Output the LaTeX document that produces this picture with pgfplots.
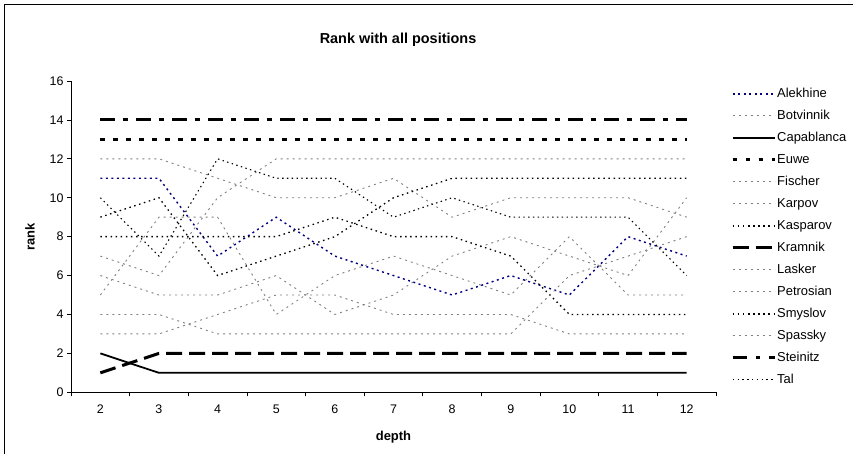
\documentclass[border=0pt]{standalone}
\usepackage{fontspec}
\setmainfont{Liberation Sans}
\usepackage{pgfplots}
\usepackage{pgfplotstable}
\pgfplotsset{compat=1.18}
\definecolor{navyA}{RGB}{0,0,128}
\definecolor{greyL}{RGB}{128,128,128}

\pgfplotstableread{
d Alekhine Botvinnik Capablanca Euwe Fischer Karpov Kasparov Kramnik Lasker Petrosian Smyslov Spassky Steinitz Tal
2 11 12 2 13 7 6 8 1 5 4 9 3 14 10
3 11 12 1 13 6 5 8 2 9 4 10 3 14 7
4 7 11 1 13 10 5 8 2 9 3 6 4 14 12
5 9 10 1 13 12 6 8 2 4 3 7 5 14 11
6 7 10 1 13 12 4 9 2 6 3 8 5 14 11
7 6 11 1 13 12 5 8 2 7 3 10 4 14 9
8 5 9 1 13 12 7 8 2 6 3 11 4 14 10
9 6 10 1 13 12 8 7 2 5 3 11 4 14 9
10 5 10 1 13 12 7 4 2 8 6 11 3 14 9
11 8 10 1 13 12 6 4 2 5 7 11 3 14 9
12 7 9 1 13 12 10 4 2 5 8 11 3 14 6
}\ranks

\begin{document}
\begin{tikzpicture}
\useasboundingbox (0,0) rectangle (853bp,454bp);
\draw[line width=0.8bp] (4.5bp,0) -- (4.5bp,449.5bp) -- (853bp,449.5bp);
\begin{axis}[
  at={(71bp,61.7bp)}, anchor=south west,
  scale only axis, width=645bp, height=311.3bp,
  xmin=1.5, xmax=12.5, ymin=0, ymax=16,
  axis x line*=bottom, axis y line*=left,
  axis line style={line width=0.8bp},
  xtick={2,...,12}, ytick={0,2,...,16},
  minor xtick={1.5,2.5,...,12.5},
  tick align=outside,
  major tick length=4bp, minor tick length=4bp,
  tick style={black, line width=0.8bp},
  major x tick style={draw=none},
  tick label style={font=\fontsize{12.5}{14}\selectfont},
  xticklabel style={yshift=-5bp},
  /pgf/number format/assume math mode=true,
  title={Rank with all positions},
  title style={font=\bfseries\fontsize{14.5}{17}\selectfont, at={(axis description cs:0.507,1.080)}},
  xlabel={depth},
  xlabel style={font=\bfseries\fontsize{13}{15}\selectfont, at={(axis description cs:0.5,-0.1436)}, anchor=center},
  ylabel={rank},
  ylabel style={font=\bfseries\fontsize{13}{15}\selectfont, at={(axis description cs:-0.0636,0.5)}, anchor=center},
  legend cell align=left,
  legend image code/.code={\draw[#1] (0bp,0.3bp) -- (42bp,0.3bp);},
  legend style={at={(axis description cs:1.0233,0.9807)}, anchor=north west,
    draw=none, fill=none, inner sep=0bp,
    font=\fontsize{13}{15}\selectfont,
    nodes={inner sep=1bp, text height=9.5bp, text depth=2.5bp},
    row sep=8bp},
]
\addplot[color=navyA, line width=1.4bp, dash pattern=on 2bp off 3.5bp] table[x=d,y=Alekhine]{\ranks};
\addlegendentry{Alekhine}
\addplot[color=greyL, line width=0.9bp, dash pattern=on 2bp off 4bp] table[x=d,y=Botvinnik]{\ranks};
\addlegendentry{Botvinnik}
\addplot[black, line width=1.8bp] table[x=d,y=Capablanca]{\ranks};
\addlegendentry{Capablanca}
\addplot[black, line width=3bp, dash pattern=on 4.3bp off 8.7bp] table[x=d,y=Euwe]{\ranks};
\addlegendentry{Euwe}
\addplot[color=greyL, line width=0.9bp, dash pattern=on 2bp off 4bp] table[x=d,y=Fischer]{\ranks};
\addlegendentry{Fischer}
\addplot[color=greyL, line width=0.9bp, dash pattern=on 2bp off 4bp] table[x=d,y=Karpov]{\ranks};
\addlegendentry{Karpov}
\addplot[black, line width=1.3bp, dash pattern=on 1.5bp off 3.6bp] table[x=d,y=Kasparov]{\ranks};
\addlegendentry{Kasparov}
\addplot[black, line width=3bp, dash pattern=on 16bp off 7bp] table[x=d,y=Kramnik]{\ranks};
\addlegendentry{Kramnik}
\addplot[color=greyL, line width=0.9bp, dash pattern=on 2bp off 4bp] table[x=d,y=Lasker]{\ranks};
\addlegendentry{Lasker}
\addplot[color=greyL, line width=0.9bp, dash pattern=on 2bp off 4bp] table[x=d,y=Petrosian]{\ranks};
\addlegendentry{Petrosian}
\addplot[black, line width=1.3bp, dash pattern=on 1.5bp off 3.6bp] table[x=d,y=Smyslov]{\ranks};
\addlegendentry{Smyslov}
\addplot[color=greyL, line width=0.9bp, dash pattern=on 2bp off 4bp] table[x=d,y=Spassky]{\ranks};
\addlegendentry{Spassky}
\addplot[black, line width=3bp, dash pattern=on 14.5bp off 8.5bp on 4.7bp off 8.3bp] table[x=d,y=Steinitz]{\ranks};
\addlegendentry{Steinitz}
\addplot[black, line width=1.1bp, dash pattern=on 1.4bp off 3.4bp] table[x=d,y=Tal]{\ranks};
\addlegendentry{Tal}
\end{axis}
\end{tikzpicture}
\end{document}
